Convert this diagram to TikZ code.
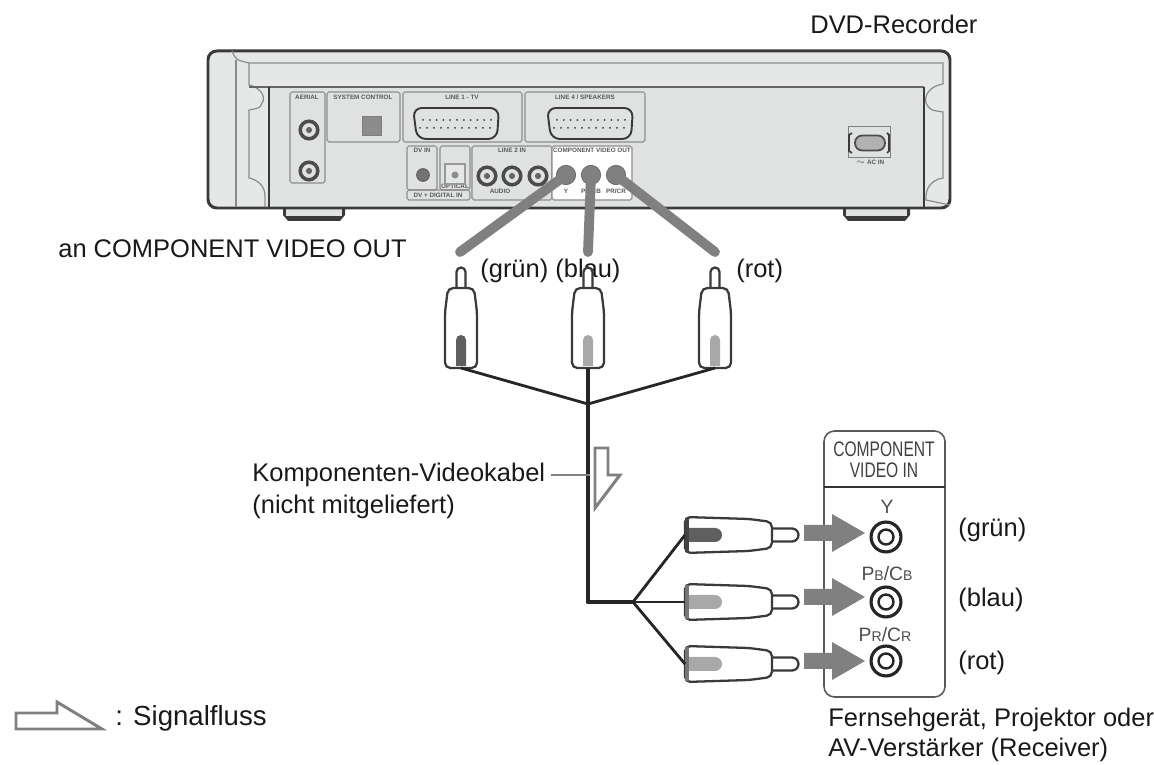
\documentclass[tikz,border=0pt]{standalone}
\usepackage{fontspec}
\setmainfont{Liberation Sans}
\usetikzlibrary{calc, arrows.meta}
\definecolor{rearbody}{HTML}{E6E8E8}
\definecolor{rearpanel}{HTML}{E0E2E2}
\definecolor{rearline}{HTML}{3A3A3A}
\definecolor{flowgray}{HTML}{808080}
\definecolor{plugdark}{HTML}{5F5F5F}
\definecolor{pluglight}{HTML}{A8A8A8}

% one vertical plug, hanging from its pin
\newcommand{\vplug}[3]{%
  \begin{scope}[shift={(#1,267)}]
    \draw[plugline, fill=white] (-4.5,21) -- (-4.5,5) arc[start angle=180, end angle=360, radius=4.5] -- (4.5,21);
    \draw[plugline, fill=white, rounded corners=3pt] (-13,21) -- (13,21) -- (16,45) -- (16,101) -- (-16,101) -- (-16,45) -- cycle;
    \fill[#2] (-5,99) -- (-5,73) arc[start angle=180, end angle=360, radius=5] -- (5,99) -- cycle;
    \node[coordinate] (#3) at (0,101) {};
  \end{scope}}
% one horizontal plug, cable end on the left
\newcommand{\hplug}[3]{%
  \begin{scope}[shift={(685,#1)}]
    \draw[plugline, fill=white] (86,-6.5) -- (107,-6.5) arc[start angle=-90, end angle=90, radius=6.5] -- (86,6.5);
    \draw[plugline, fill=white, rounded corners=3pt] (0,-18) -- (64,-16) -- (87,-13) -- (87,13) -- (64,16) -- (0,18) -- cycle;
    \fill[#2] (1,-7) -- (30,-7) arc[start angle=-90, end angle=90, radius=7] -- (1,7) -- cycle;
    \fill[#2!70!black] (0,-17) rectangle (4,17);
    \node[coordinate] (#3) at (0,0) {};
  \end{scope}}

\begin{document}
\begin{tikzpicture}[x=0.2mm, y=-0.2mm,
    plugline/.style={draw=rearline, line width=1.3pt},
    cable/.style={draw=black!85, line width=1.6pt},
    maincable/.style={draw=black!85, line width=2.8pt},
    rearbox/.style={draw=black!45, line width=0.6pt, rounded corners=1pt},
    jack/.style={circle, draw=black!70, fill=rearpanel, line width=2pt, minimum size=10pt, inner sep=0pt},
    jackcore/.style={circle, fill=black!60, minimum size=3.5pt, inner sep=0pt},
    tinylabel/.style={font=\fontsize{3.6}{4}\selectfont\bfseries, text=black!65, inner sep=0pt},
    paneltitle/.style={font=\fontsize{12}{14}\selectfont, xscale=0.74, inner sep=0pt, text=black!75},
    panelsmall/.style={font=\fontsize{11}{13}\selectfont, inner sep=0pt, text=black!70},
    label/.style={font=\fontsize{14.5}{17}\selectfont, inner sep=0pt, text=black!90, anchor=west},
    signal/.style={fill=flowgray, draw=none},
    flowmark/.style={draw=flowgray, fill=white, line width=1.7pt},
    feedline/.style={draw=flowgray, line width=5.6pt, line cap=round}
]
\useasboundingbox (0,0) rectangle (1154,765);

% Recorder housing
\fill[rearline] (283,208) -- (345,208) -- (345,215) -- (340,221) -- (288,221) -- (283,215) -- cycle;
\fill[rearline] (843,208) -- (910,208) -- (910,215) -- (905,221) -- (848,221) -- (843,215) -- cycle;
\fill[rearpanel] (286,209) rectangle (342,216);
\fill[rearpanel] (846,209) rectangle (907,216);
\draw[draw=rearline, fill=rearbody, line width=1.7pt, rounded corners=5pt] (208,208) -- (208,51) -- (950,51) -- (950,208) -- cycle;
\draw[black!45, line width=0.7pt] (232,51) .. controls (236,60) .. (249,63) -- (943,63) -- (943,84) .. controls (930,86) and (924,95) .. (926,103) .. controls (930,110) .. (943,112) -- (943,178) .. controls (930,180) and (925,190) .. (926,200) -- (950,205);
\draw[black!45, line width=0.7pt] (249,63) -- (249,85) .. controls (262,88) and (266,98) .. (262,103) .. controls (260,108) .. (249,110) -- (249,178) .. controls (258,180) and (265,186) .. (265,196) -- (265,207);
\draw[black!45, line width=0.7pt] (236,60) -- (236,207);
\fill[rearpanel] (269,87) rectangle (924,205);
\draw[black!60, line width=0.8pt] (249,87) -- (924,87);
\draw[rearline, line width=1pt] (269,87) -- (269,207);
\draw[rearline, line width=1pt] (924,87) -- (924,207);

% Rear connector fields
\draw[rearbox] (290,92) rectangle (325,183);
\draw[rearbox] (327,92) rectangle (400,142);
\draw[rearbox] (403,92) rectangle (522,142);
\draw[rearbox] (525,92) rectangle (645,142);
\draw[rearbox] (407,146) rectangle (437,190);
\draw[rearbox] (440,146) rectangle (470,190);
\draw[rearbox] (407,190) rectangle (470,200);
\draw[rearbox] (472,146) rectangle (552,200);
\draw[rearbox, fill=white] (552,146) rectangle (632,200);
\node[tinylabel] (aerial) at (307,97) {AERIAL};
\node[tinylabel] (syscontrol) at (363,97) {SYSTEM CONTROL};
\node[tinylabel] (lineone) at (462,97) {LINE 1 - TV};
\node[tinylabel] (linefour) at (585,97) {LINE 4 / SPEAKERS};
\node[tinylabel] (dvin) at (422,150) {DV IN};
\node[tinylabel] (optical) at (455,186) {OPTICAL};
\node[tinylabel] (dvdigital) at (438,195) {DV + DIGITAL IN};
\node[tinylabel] (linetwo) at (512,150) {LINE 2 IN};
\node[tinylabel] (audio) at (500,191) {AUDIO};
\node[tinylabel] (compout) at (592,150) {COMPONENT VIDEO OUT};
\node[tinylabel] (jacky) at (566,191) {Y};
\node[tinylabel] (jackb) at (591,191) {PB/CB};
\node[tinylabel] (jackr) at (616,191) {PR/CR};
\node[tinylabel] (acin) at (870,162) {$\sim$ AC IN};

% Jacks
\foreach \jx/\jy/\jn in {309/130/aerialin, 309/171/aerialout, 487/176/audiol, 512/176/audior, 538/176/videoin} {
  \node[jack] (\jn) at (\jx,\jy) {};
  \node[jackcore] (\jn c) at (\jx,\jy) {};
}
\node[circle, draw=black!60, fill=black!55, minimum size=7pt, line width=0.8pt, inner sep=0pt] (dvjack) at (423,175) {};
\foreach \jx/\jn in {566/jackout, 591/jackoutb, 616/jackoutr} {
  \node[circle, fill=flowgray, draw=black!60, minimum size=11pt, inner sep=0pt] (\jn) at (\jx,175) {};
}

% Multi-pin sockets
\foreach \sx/\sn in {413/scartone, 547/scarttwo} {
  \draw[draw=rearline, fill=rearpanel, line width=1.1pt, rounded corners=5pt] (\sx,108) -- (\sx+86,108) -- (\sx+84,139) -- (\sx+4,139) -- cycle;
  \foreach \k in {0,...,10} {
    \fill[rearline] (\sx+10+\k*6.8,120) circle (1);
    \fill[rearline] (\sx+7+\k*7,128) circle (1);
  }
}
\node[draw=black!50, fill=black!45, minimum width=11pt, minimum height=11pt, inner sep=0pt] (sysjack) at (372,126) {};
\node[draw=black!40, fill=rearbody, line width=1pt, minimum width=11pt, minimum height=11pt, inner sep=0pt] (opticalbox) at (455,174) {};
\node[circle, fill=black!45, minimum size=4pt, inner sep=0pt] (opticalc) at (455,175) {};

% Mains socket
\draw[black!50, line width=0.5pt] (848,126) rectangle (890,157);
\node[draw=black!70, fill=black!30, rounded corners=4pt, line width=1pt, minimum width=17pt, minimum height=8.5pt, inner sep=0pt] (acjack) at (870,143) {};
\draw[rearline, line width=1pt] (852,133) -- (849,135) -- (849,151) -- (852,153);
\draw[rearline, line width=1pt] (887,133) -- (889,135) -- (889,151) -- (887,153);

% Feed lines
\coordinate (feedy) at (460,252);
\coordinate (feedb) at (588,252);
\coordinate (feedr) at (715,252);
\draw[feedline] (jackout.center) -- (feedy);
\draw[feedline] (jackoutb.center) -- (feedb);
\draw[feedline] (jackoutr.center) -- (feedr);

% Labels
\node[label] (recorder) at (810,24) {DVD-Recorder};
\node[label] (compvout) at (58,249) {an COMPONENT VIDEO OUT};
\node[label] (lgreen) at (480,271) {(grün)};
\node[label] (lblue) at (555,271) {(blau)};
\node[label] (lred) at (736,271) {(rot)};

% Plugs towards the recorder
\vplug{461}{plugdark}{ptop}
\vplug{588}{pluglight}{ptopb}
\vplug{715}{pluglight}{ptopr}

% Cable tree
\coordinate (jointop) at (588,404);
\coordinate (elbow) at (588,602);
\coordinate (joinbot) at (633,602);
\draw[cable] (ptop) -- (jointop);
\draw[cable] (ptopr) -- (jointop);
\draw[cable, line width=2pt] (ptopb) -- (jointop);
\draw[maincable, line join=round] (jointop) -- (elbow) -- (joinbot);

% Plugs towards the display
\hplug{535}{plugdark}{pbot}
\hplug{602}{pluglight}{pbotb}
\hplug{664}{pluglight}{pbotr}
\draw[cable] (joinbot) -- (pbot);
\draw[cable] (joinbot) -- (pbotb);
\draw[cable] (joinbot) -- (pbotr);

% Flow marker and its leader
\node[label] (kabel) at (252,475) {Komponenten-Videokabel};
\node[label] (nicht) at (252,507) {(nicht mitgeliefert)};
\coordinate (leaderend) at (590,475);
\draw[flowgray, line width=1.1pt] ([xshift=3pt]kabel.east) -- (leaderend);
\draw[flowmark] (595,448) -- (608,448) -- (608,475) -- (620,475) -- (595,508) -- cycle;

% Input panel
\draw[draw=black!65, line width=0.9pt, rounded corners=6pt] (824,431) rectangle (945,697);
\draw[black!80, line width=0.7pt] (824,487) -- (945,487);
\node[paneltitle] (compin) at (884,449) {COMPONENT};
\node[paneltitle] (videoinl) at (884,470) {VIDEO IN};
\node[panelsmall] (py) at (887,507) {Y};
\node[panelsmall] (pb) at (887,574) {P{\fontsize{8}{9}\selectfont B}/C{\fontsize{8}{9}\selectfont B}};
\node[panelsmall] (pr) at (885,635) {P{\fontsize{8}{9}\selectfont R}/C{\fontsize{8}{9}\selectfont R}};

% Input jacks and arrows
\foreach \iy/\an/\ay in {537/iny/533, 602/inb/597, 661/inr/661} {
  \node[circle, draw=black!85, fill=white, line width=1.8pt, minimum size=17pt, inner sep=0pt] (\an) at (886,\iy) {};
  \node[circle, draw=black!85, fill=white, line width=1.4pt, minimum size=8.5pt, inner sep=0pt] (\an c) at (886,\iy) {};
  \fill[signal] (804,\ay-8) -- (832,\ay-8) -- (832,\ay-19) -- (865,\ay) -- (832,\ay+19) -- (832,\ay+8) -- (804,\ay+8) -- cycle;
}

\node[label] (rgreen) at (958,530) {(grün)};
\node[label] (rblue) at (958,600) {(blau)};
\node[label] (rred) at (958,663) {(rot)};
\node[label] (device) at (828,720) {Fernsehgerät, Projektor oder};
\node[label] (receiver) at (828,750) {AV-Verstärker (Receiver)};

% Legend
\draw[flowmark] (16,713) -- (57,713) -- (57,702) -- (102,729) -- (16,729) -- cycle;
\node[label, font=\fontsize{15.7}{18}\selectfont] (legend) at (115,718) {: Signalfluss};

\end{tikzpicture}
\end{document}
